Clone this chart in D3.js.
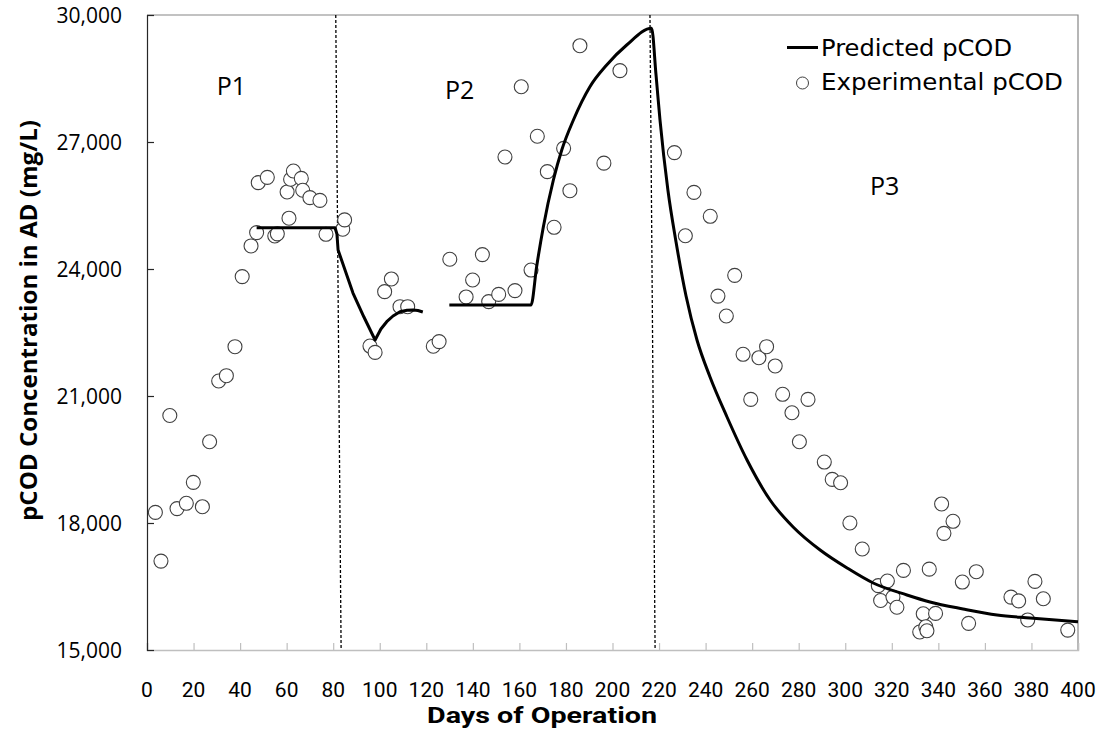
<!DOCTYPE html>
<html><head><meta charset="utf-8">
<script src="https://cdn.jsdelivr.net/npm/d3@7"></script>
<style>
html,body{margin:0;padding:0;background:#fff;}
svg{display:block;}
text{font-family:"Open Sans",sans-serif;fill:#000;}
</style></head>
<body><svg id="chart" width="1101" height="729"></svg>
<script>
// ---------- data ----------
const obsDay = [3.6,6.0,9.8,12.9,16.9,19.9,23.8,26.9,30.8,34.1,37.8,40.9,44.7,47.1,47.8,51.7,54.9,56.0,60.2,61.0,61.7,62.9,66.3,66.9,70.0,74.3,76.9,84.1,84.9,
  95.8,98.0,102.1,105.0,108.7,112.0,123.0,125.5,130.1,137.1,139.9,144.1,146.8,151.1,153.8,158.1,160.8,165.0,167.7,172.0,174.9,179.0,181.7,186.0,196.3,203.2,
  226.6,231.3,235.0,242.0,245.3,248.9,252.5,256.1,259.4,262.9,266.2,269.9,273.1,277.1,280.3,284.0,291.0,294.4,298.0,302.0,307.3,314.2,315.2,318.1,320.5,322.2,325.0,
  332.0,333.5,334.6,335.1,336.1,338.8,341.4,342.4,346.3,350.3,353.0,356.3,371.2,374.5,378.4,381.5,385.1,395.6];
const obsVal = [18250,17100,20540,18340,18465,18960,18385,19920,21355,21480,22165,23820,24545,24860,26040,26165,24780,24830,25820,25200,26120,26315,26140,25860,25685,25620,24820,24940,25160,
  22180,22030,23465,23765,23110,23110,22175,22285,24230,23340,23740,24340,23230,23400,26645,23490,28305,23975,27135,26300,24985,26850,25850,29275,26500,28685,
  26750,24785,25810,25245,23360,22890,23850,21985,20920,21905,22165,21710,21040,20605,19920,20920,19440,19030,18950,18000,17385,16520,16170,16630,16250,16010,16880,
  15425,15855,15550,15455,16910,15865,18450,17755,18040,16605,15630,16850,16250,16160,15710,16620,16210,15470];

// predicted pCOD, first run (P1 plateau, drop and partial recovery)
const predDayA = [47.1,80.8,81.6,82.1,88.5,93.2,98.0,100.5,103.0,105.7,108.7,111.7,114.3,116.4,118.5];
const predValA = [24975,24975,24827,24449,23433,22866,22323,22583,22755,22890,22991,23024,23031,23020,22984];
// predicted pCOD, second run (P2 rise and P3 decay)
const predDayB = [129.9,165.0,167.4,170.3,174.6,178.2,183.2,190.3,197.5,206.1,216.8,218.7,220.4,223.8,227.3,231.6,236.3,241.9,249.2,257.8,267.7,277.6,289.2,300.8,312.0,326.5,336.4,350.6,365.2,379.4,400];
const predValB = [23150,23150,24054,25000,26102,26811,27520,28306,28819,29291,29686,28583,27520,25866,24638,23362,22323,21449,20504,19488,18543,17906,17362,16937,16583,16299,16134,15969,15827,15756,15668];

// phase boundaries (day at top of plot, day at bottom of plot)
const boundaryTop = [81.1,216.1];
const boundaryBottom = [83.4,218.3];

const phaseNames = ["P1","P2","P3"];
const phaseDay = [30,128,310.6];
const phaseVal = [28110,28015,25748];

const xTickVals = [0,20,40,60,80,100,120,140,160,180,200,220,240,260,280,300,320,340,360,380,400];
const yTickVals = [15000,18000,21000,24000,27000,30000];

const legendNames = ["Predicted pCOD","Experimental pCOD"];
const xTitle = "Days of Operation";
const yTitle = "pCOD Concentration in AD (mg/L)";

// ---------- layout ----------
const L = 147, R = 1078, T = 15, B = 650;
const svg = d3.select("#chart");
const x = d3.scaleLinear().domain([0,400]).range([L,R]);
const y = d3.scaleLinear().domain([15000,30000]).range([B,T]);
const fmt = d3.format(",");

// borders (top/right)
svg.append("path").attr("d",`M${L},${T}H${R}V${B}`).attr("fill","none").attr("stroke","#868686").attr("stroke-width",1.2);

// x axis
const gx = svg.append("g").attr("transform",`translate(0,${B})`)
  .call(d3.axisBottom(x).tickValues(xTickVals).tickSize(-7).tickFormat(""));
gx.select(".domain").attr("stroke","#bfbfbf").attr("stroke-width",1.5);
gx.selectAll(".tick line").attr("stroke","#bfbfbf").attr("stroke-width",1.2);
svg.append("g").selectAll("text").data(xTickVals).join("text")
  .attr("x",d=>x(d)).attr("y",696.5).attr("text-anchor","middle")
  .style("font-family","Roboto,sans-serif").style("font-size","21px").text(d=>d);

// y axis
const gy = svg.append("g").attr("transform",`translate(${L},0)`)
  .call(d3.axisLeft(y).tickValues(yTickVals).tickSize(-7).tickFormat(""));
gy.select(".domain").attr("stroke","#262626").attr("stroke-width",1.2);
gy.selectAll(".tick line").attr("stroke","#262626").attr("stroke-width",1.2);
svg.append("g").selectAll("text").data(yTickVals).join("text")
  .attr("x",122).attr("y",d=>y(d)).attr("dy","0.36em").attr("text-anchor","end")
  .style("font-size","21px").text(d=>fmt(d));

// titles
svg.append("text").attr("x",542).attr("y",723).attr("text-anchor","middle")
  .attr("textLength",230).attr("lengthAdjust","spacingAndGlyphs")
  .style("font-family","Roboto,sans-serif").style("font-size","22px").style("font-weight","700").text(xTitle);
svg.append("text").attr("transform",`translate(37,320.5) rotate(-90)`).attr("text-anchor","middle")
  .attr("textLength",401).attr("lengthAdjust","spacingAndGlyphs")
  .style("font-size","23.5px").style("font-weight","700").text(yTitle);

// phase boundaries
svg.append("g").selectAll("line").data(boundaryTop).join("line")
  .attr("x1",d=>x(d)).attr("y1",y(30000))
  .attr("x2",(d,i)=>x(boundaryBottom[i])).attr("y2",y(15000))
  .attr("stroke","#000").attr("stroke-width",1.3).attr("stroke-dasharray","3,2");

// phase labels
svg.append("g").selectAll("text").data(phaseNames).join("text")
  .attr("x",(d,i)=>x(phaseDay[i])).attr("y",(d,i)=>y(phaseVal[i]))
  .style("font-size","25px").text(d=>d);

// observations
svg.append("g").selectAll("circle").data(obsDay).join("circle")
  .attr("cx",d=>x(d)).attr("cy",(d,i)=>y(obsVal[i])).attr("r",7)
  .attr("fill","#fff").attr("stroke","#404040").attr("stroke-width",1.1);

// predicted line
const segA = predDayA.map((d,i)=>[d,predValA[i]]);
const segB = predDayB.map((d,i)=>[d,predValB[i]]);
const lineA = d3.line().x(d=>x(d[0])).y(d=>y(d[1])).curve(d3.curveLinear);
const lineB = d3.line().x(d=>x(d[0])).y(d=>y(d[1])).curve(d3.curveMonotoneX);
svg.append("path").datum(segA).attr("d",lineA).attr("fill","none").attr("stroke","#000").attr("stroke-width",3).attr("stroke-linejoin","round");
svg.append("path").datum(segB).attr("d",lineB).attr("fill","none").attr("stroke","#000").attr("stroke-width",3).attr("stroke-linejoin","round");

// legend
svg.append("line").attr("x1",787).attr("x2",818).attr("y1",47.5).attr("y2",47.5).attr("stroke","#000").attr("stroke-width",3);
svg.append("circle").attr("cx",802.5).attr("cy",83).attr("r",6).attr("fill","#fff").attr("stroke","#404040").attr("stroke-width",1);
svg.append("g").selectAll("text").data(legendNames).join("text")
  .attr("x",821).attr("y",(d,i)=>56+i*34)
  .attr("textLength",(d,i)=>[191,242][i]).attr("lengthAdjust","spacingAndGlyphs")
  .style("font-size","23.5px").style("font-family","'DejaVu Sans',sans-serif").text(d=>d);
</script></body></html>
